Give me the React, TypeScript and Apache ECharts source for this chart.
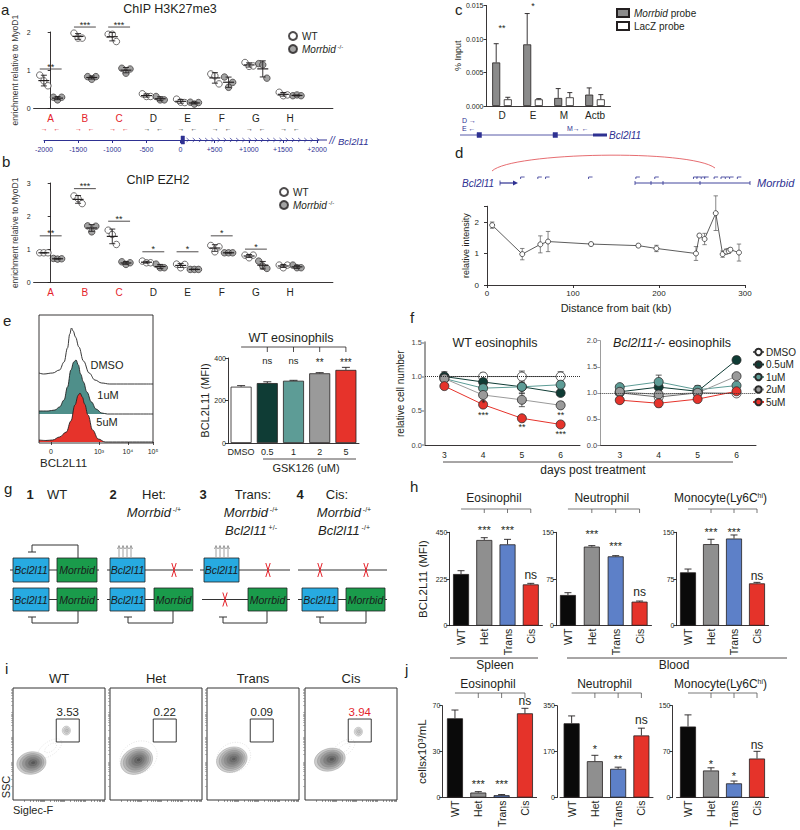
import React, { useEffect, useRef } from 'react';
import * as echarts from 'echarts';

const FONT = "'Liberation Sans', Arial, Helvetica, 'DejaVu Sans', sans-serif";
const INK = '#231f20';
const NAVY = '#2e3192';
const RED = '#e4232b';
const BLUE_BOX = '#27aae1';
const GREEN_BOX = '#1a9b4b';

/* ====================== DATA ====================== */
// a, b : ChIP-qPCR (enrichment relative to MyoD1), 3 replicates per site
const chipSites = ['A', 'B', 'C', 'D', 'E', 'F', 'G', 'H'];
const h3k27WT = [
  [0.87, 0.72, 0.59], [1.97, 1.84, 1.84], [1.94, 1.94, 1.75], [0.38, 0.31, 0.31],
  [0.24, 0.16, 0.15], [0.9, 0.85, 0.64], [1.2, 1.1, 1.11], [0.42, 0.33, 0.35],
];
const h3k27KO = [
  [0.29, 0.22, 0.29], [0.83, 0.76, 0.83], [1.05, 0.92, 1.03], [0.31, 0.22, 0.22],
  [0.16, 0.11, 0.15], [0.82, 0.55, 0.68], [1.17, 1.14, 0.79], [0.33, 0.35, 0.33],
];
const h3k27SigSite = [0, 1, 2];
const h3k27SigLevel = [1.03, 2.13, 2.13];
const h3k27SigText = ['**', '***', '***'];

const ezh2WT = [
  [0.9, 0.9, 0.9], [2.61, 2.53, 2.38], [1.58, 1.45, 1.15], [0.65, 0.6, 0.6],
  [0.56, 0.45, 0.55], [1.12, 0.93, 1.08], [0.83, 0.75, 0.83], [0.53, 0.45, 0.53],
];
const ezh2KO = [
  [0.73, 0.71, 0.72], [1.71, 1.53, 1.7], [0.63, 0.55, 0.6], [0.56, 0.45, 0.45],
  [0.4, 0.4, 0.4], [0.9, 0.9, 0.9], [0.65, 0.5, 0.43], [0.53, 0.45, 0.45],
];
const ezh2SigSite = [0, 1, 2, 3, 4, 5, 6];
const ezh2SigLevel = [1.41, 2.83, 1.85, 0.93, 0.93, 1.41, 1.01];
const ezh2SigText = ['**', '***', '**', '*', '*', '*', '*'];
const promoterTicks = [-2000, -1500, -1000, -500, 0, 500, 1000, 1500, 2000];

// c : ChIRP (% input)
const chirpSites = ['D', 'E', 'M', 'Actb'];
const chirpMorrbid = [0.0065, 0.0092, 0.0012, 0.0017];
const chirpMorrbidErr = [0.0028, 0.0046, 0.0014, 0.001];
const chirpLacZ = [0.001, 0.001, 0.0013, 0.001];
const chirpLacZErr = [0.0003, 0.0001, 0.0007, 0.0007];
const chirpSigSite = [0, 1];
const chirpSigLevel = [0.0113, 0.0146];
const chirpSigText = ['**', '*'];

// d : 3C relative intensity vs distance from bait (kb)
const captureDist = [6, 41, 62, 71, 121, 176, 197, 243, 247, 253, 266, 274, 278, 281, 283, 293];
const captureInt = [1.9, 0.98, 1.29, 1.38, 1.3, 1.25, 1.16, 1.0, 1.57, 1.46, 2.28, 0.98, 1.06, 1.08, 1.12, 1.03];
const captureErr = [0.1, 0.18, 0.27, 0.32, 0.05, 0.05, 0.1, 0.22, 0.05, 0.18, 0.55, 0.1, 0.08, 0.08, 0.06, 0.27];
const capturePrimers = [42, 62, 71, 121, 176, 198, 243, 247, 252, 256, 267, 275, 280, 285, 294];

// e : BCL2L11 histograms (channel, count) and MFI
const histTickPos = [10.5, 52.6, 78, 100];
const histTickLabels = ['0', '10³', '10⁴', '10⁵'];
const histDMSO = [[0, 11], [4, 10], [12, 11], [18, 14], [22, 22], [25, 36], [27, 50], [28.5, 56], [30, 53], [32, 47], [35, 37], [39, 23], [44, 11], [49, 4], [55, 1], [62, 0], [100, 0]];
const hist1uM = [[0, 3], [8, 3], [14, 4], [18, 7], [22, 14], [25, 27], [28, 44], [30.5, 52], [32.5, 54], [34.5, 49], [36.5, 40], [39, 32], [42, 22], [46, 12], [50, 5], [55, 1], [60, 0], [100, 0]];
const hist5uM = [[0, 2], [6, 1.5], [12, 2], [18, 5], [24, 10], [28, 21], [31.5, 37], [34.5, 47], [36, 49], [38, 45], [40, 38], [43, 27], [47, 12], [52, 3], [58, 0], [100, 0]];
const gskDose = ['DMSO', '0.5', '1', '2', '5'];
const gskMFI = [265, 282, 293, 328, 344];
const gskErr = [5, 6, 2, 3, 12];
const gskSig = ['ns', 'ns', '**', '***'];
const gskColors = ['#ffffff', '#0f3c35', '#5d9c96', '#9a9a9a', '#e6332b'];

// f : relative cell number
const days = ['3', '4', '5', '6'];
const fDoses = ['DMSO', '0.5uM', '1uM', '2uM', '5uM'];
const fColors = ['#ffffff', '#0f3c35', '#5d9c96', '#9a9a9a', '#e6332b'];
const wtMean = [[1.0, 1.0, 1.0, 1.0], [1.0, 0.92, 0.85, 0.76], [0.97, 0.83, 0.85, 0.88], [0.97, 0.73, 0.66, 0.58], [0.86, 0.59, 0.39, 0.3]];
const wtErr = [[0.07, 0.05, 0.08, 0.07], [0.03, 0.04, 0.05, 0.02], [0.03, 0.04, 0.1, 0.05], [0.02, 0.03, 0.1, 0.05], [0.02, 0.02, 0.03, 0.02]];
const koMean = [[1.0, 0.92, 1.0, 0.99], [1.02, 1.11, 1.03, 1.63], [1.11, 1.21, 1.06, 1.14], [1.02, 0.97, 1.0, 1.32], [0.86, 0.8, 0.88, 1.03]];
const koErr = [[0.03, 0.04, 0.05, 0.03], [0.03, 0.05, 0.04, 0.06], [0.03, 0.13, 0.08, 0.04], [0.03, 0.04, 0.03, 0.03], [0.03, 0.07, 0.04, 0.03]];
const wtStarPos = [[1.14, 0.65], [1, 0.47], [2, 0.3], [3, 0.48], [3, 0.19]];
const wtStarText = ['*', '***', '**', '**', '***'];

// h, j : genotypes
const genotypes = ['WT', 'Het', 'Trans', 'Cis'];
const genoColors = ['#0a0a0a', '#8f8f8f', '#5d80c8', '#e5332a'];
const hEos = [249, 413, 392, 199];
const hEosErr = [16, 11, 24, 5];
const hNeu = [49.3, 127, 111.4, 38.6];
const hNeuErr = [3.7, 1.6, 1.1, 1.0];
const hMono = [85.7, 131, 140, 68];
const hMonoErr = [5.3, 7.8, 5.7, 1.6];
const hSig = ['', '***', '***', 'ns'];
const jEos = [60.4, 3.8, 1.8, 64.2];
const jEosErr = [6.3, 0.7, 0.5, 3.8];
const jNeu = [283, 138.5, 109.5, 236.7];
const jNeuErr = [28, 22.5, 6.3, 27.7];
const jMono = [116, 44.2, 23.2, 63.7];
const jMonoErr = [19, 4.4, 3.8, 11.8];
const jEosSig = ['', '***', '***', 'ns'];
const jNeuSig = ['', '*', '**', 'ns'];
const jMonoSig = ['', '*', '*', 'ns'];

// i : flow plots
const flowGenotypes = ['WT', 'Het', 'Trans', 'Cis'];
const flowGatePct = ['3.53', '0.22', '0.09', '3.94'];
const flowBlobs = [
  [[40, 46, 15, 6, 35, 2, 0.05], [20, 33, 16, 10, 10, 6, 0.9], [58, 62, 4.5, 4, 0, 3, 0.3]],
  [[31, 38, 21, 14, 28, 2, 0.05], [29, 35, 18, 11.5, 25, 7, 0.92]],
  [[29, 38, 19, 13, 25, 2, 0.04], [27, 36, 17, 11, 20, 7, 0.88]],
  [[42, 46, 14, 6, 35, 2, 0.05], [27, 36, 17, 10, 15, 6, 0.9], [58, 61, 4.5, 4, 0, 3, 0.3]],
];
const flowGate = [47, 51.8, 72, 72.3];

/* ====================== OPTION ====================== */
function buildOption() {
  const grid: any[] = [];
  const xAxis: any[] = [];
  const yAxis: any[] = [];
  const series: any[] = [];
  const graphic: any[] = [];
  const legend: any[] = [];

  const addGrid = (g: any, x: any, y: any) => {
    const i = grid.length;
    grid.push({ containLabel: false, ...g });
    xAxis.push({ gridIndex: i, ...x });
    yAxis.push({ gridIndex: i, ...y });
    return i;
  };
  const T = (x: number, y: number, text: string, o: any = {}) =>
    graphic.push({
      type: 'text', x, y, z: 50, silent: true, rotation: o.rot || 0,
      style: {
        text, fontFamily: FONT, fontSize: o.size || 10, fill: o.color || INK, stroke: 'transparent', lineWidth: 0,
        fontStyle: o.italic ? 'italic' : 'normal', fontWeight: o.bold ? 'bold' : 'normal',
        align: o.align || 'center', verticalAlign: o.va || 'middle', rich: o.rich,
      },
    });
  const L = (x1: number, y1: number, x2: number, y2: number, color = INK, w = 1) =>
    graphic.push({ type: 'line', z: 40, silent: true, shape: { x1, y1, x2, y2 }, style: { stroke: color, lineWidth: w } });
  const PL = (pts: number[][], color = INK, w = 1) =>
    graphic.push({ type: 'polyline', z: 40, silent: true, shape: { points: pts }, style: { stroke: color, lineWidth: w, fill: null } });
  const R = (x: number, y: number, w: number, h: number, fill: any, stroke = INK, lw = 1, z = 40) =>
    graphic.push({ type: 'rect', z, silent: true, shape: { x, y, width: w, height: h }, style: { fill, stroke, lineWidth: lw } });

  const prism = (o: any = {}) => ({
    axisLine: { show: true, lineStyle: { color: o.lineColor || INK, width: o.lw || 0.9 } },
    axisTick: { show: o.tick !== false, length: 3, lineStyle: { color: o.lineColor || INK, width: o.lw ? Math.min(o.lw, 1.5) : 0.9 } },
    splitLine: { show: false },
    axisLabel: { fontFamily: FONT, color: o.labelColor || INK, fontSize: o.fs || 7, margin: o.margin ?? 3, ...(o.label || {}) },
  });
  const nameStyle = (size: number) => ({ fontFamily: FONT, fontSize: size, color: INK });
  const txtStyle = (text: string, size: number, color: string, va = 'middle') => ({
    text, fontFamily: FONT, fontSize: size, fill: color, stroke: 'transparent', lineWidth: 0, align: 'center', verticalAlign: va,
  });

  const errBars = (gi: number, rows: number[][], o: any = {}) =>
    series.push({
      type: 'custom', xAxisIndex: gi, yAxisIndex: gi, silent: true, z: o.z ?? 4, data: rows,
      renderItem: (p: any, api: any) => {
        const x = api.value(0), y = api.value(1), e = api.value(2);
        const c = api.coord([x, y]);
        const top = api.coord([x, y + e])[1];
        const bot = api.coord([x, o.up ? y : y - e])[1];
        const cx = c[0] + (o.off || 0);
        const st = { stroke: o.color || INK, lineWidth: o.lw || 0.9 };
        const ch: any[] = [
          { type: 'line', shape: { x1: cx, y1: top, x2: cx, y2: bot }, style: st },
          { type: 'line', shape: { x1: cx - o.cap, y1: top, x2: cx + o.cap, y2: top }, style: st },
        ];
        if (!o.up) ch.push({ type: 'line', shape: { x1: cx - o.cap, y1: bot, x2: cx + o.cap, y2: bot }, style: st });
        if (o.mean) ch.push({ type: 'line', shape: { x1: cx - o.mean, y1: c[1], x2: cx + o.mean, y2: c[1] }, style: { ...st, lineWidth: 1.2 } });
        return { type: 'group', children: ch };
      },
    });
  const texts = (gi: number, rows: number[][], labels: string[], o: any = {}) =>
    series.push({
      type: 'custom', xAxisIndex: gi, yAxisIndex: gi, silent: true, z: 6, data: rows,
      renderItem: (p: any, api: any) => {
        const c = api.coord([api.value(0), api.value(1)]);
        const t = labels[p.dataIndex];
        const star = t.charAt(0) === '*';
        return {
          type: 'text', x: c[0], y: c[1] + (star ? 2.5 : 0),
          style: txtStyle(t, star ? (o.starSize || o.size || 9) : (o.size || 9), o.color || INK),
        };
      },
    });
  const sigBars = (gi: number, rows: number[][], labels: string[], o: any = {}) =>
    series.push({
      type: 'custom', xAxisIndex: gi, yAxisIndex: gi, silent: true, z: 6, data: rows,
      renderItem: (p: any, api: any) => {
        const a = api.coord([api.value(0), api.value(2)]);
        const b = api.coord([api.value(1), api.value(2)]);
        return {
          type: 'group', children: [
            { type: 'line', shape: { x1: a[0], y1: a[1], x2: b[0], y2: a[1] }, style: { stroke: INK, lineWidth: 0.8 } },
            { type: 'text', x: (a[0] + b[0]) / 2, y: a[1] + 2, style: txtStyle(labels[p.dataIndex], o.size || 9, INK, 'bottom') },
          ],
        };
      },
    });
  const bracket = (gi: number, x1: number, x2: number, dy: number, tick: number, color = INK) =>
    series.push({
      type: 'custom', xAxisIndex: gi, yAxisIndex: gi, silent: true, z: 6, data: [[x1, 0]],
      renderItem: (p: any, api: any) => {
        const y = p.coordSys.y + dy;
        const st = { stroke: color, lineWidth: 0.8 };
        const ch: any[] = [{ type: 'line', shape: { x1: api.coord([x1, 0])[0], y1: y, x2: api.coord([x2, 0])[0], y2: y }, style: st }];
        for (let i = x1 + 1; i <= x2; i++) {
          const x = api.coord([i, 0])[0];
          ch.push({ type: 'line', shape: { x1: x, y1: y, x2: x, y2: y + tick }, style: st });
        }
        return { type: 'group', children: ch };
      },
    });

  // rich styles for graphic texts (zrender: fill) and for component texts (echarts: color)
  const gRich = (sz: number, color = INK) => ({
    i: { fontStyle: 'italic', fontFamily: FONT, fontSize: sz, fill: color },
    s: { fontFamily: FONT, fontSize: Math.round(sz * 0.55), fill: color, verticalAlign: 'top' },
    n: { fontFamily: FONT, fontSize: sz, fill: color },
  });
  const cRich = (sz: number) => ({
    i: { fontStyle: 'italic', fontFamily: FONT, fontSize: sz, color: INK },
    s: { fontFamily: FONT, fontSize: Math.round(sz * 0.6), color: INK, verticalAlign: 'top' },
    n: { fontFamily: FONT, fontSize: sz, color: INK },
  });

  /* ---------- panel letters ---------- */
  [['a', 1, 9], ['b', 2, 161], ['c', 455, 9], ['d', 455, 152], ['e', 3, 320], ['f', 410, 317], ['g', 4, 488], ['h', 410, 486], ['i', 5, 668], ['j', 405, 669]]
    .forEach(([t, x, y]: any) => T(x, y, t, { size: 15, align: 'left' }));

  /* ---------- a, b ---------- */
  const stat = (a: number[]) => {
    const m = a.reduce((s, v) => s + v, 0) / a.length;
    const sd = Math.sqrt(a.reduce((s, v) => s + (v - m) ** 2, 0) / (a.length - 1));
    return [m, sd];
  };
  const chipPanel = (top: number, height: number, max: number, wt: number[][], ko: number[][], sSite: number[], sLev: number[], sTxt: string[], arrows: boolean) => {
    const gi = addGrid({ left: 33.6, top, width: 299.3, height },
      {
        type: 'value', min: -0.5, max: 8.25, ...prism({ tick: false }),
        axisLabel: {
          customValues: chipSites.map((_, i) => i), margin: 4,
          formatter: (v: number) => {
            const i = Math.round(v);
            const k = i < 3 ? 'r' : 'k';
            return arrows ? `{${k}|${chipSites[i]}}\n{${k}a|→   ←}` : `{${k}|${chipSites[i]}}`;
          },
          rich: {
            r: { color: RED, fontSize: 10, fontFamily: FONT, lineHeight: 12 },
            ra: { color: RED, fontSize: 7, fontFamily: FONT, lineHeight: 9 },
            k: { color: INK, fontSize: 10, fontFamily: FONT, lineHeight: 12 },
            ka: { color: '#333', fontSize: 7, fontFamily: FONT, lineHeight: 9 },
          },
        },
      },
      {
        type: 'value', min: 0, max, interval: 1, ...prism({ fs: 7, margin: 3 }),
        name: 'enrichment relative to MyoD1', nameLocation: 'middle', nameRotate: 90, nameGap: 14,
        nameTextStyle: { fontFamily: FONT, fontSize: 8.5, color: '#3a3a3a' },
      });
    const wtOff = [-0.32, -0.2, -0.08], koOff = [0.08, 0.2, 0.32];
    series.push({
      type: 'scatter', name: 'WT', xAxisIndex: gi, yAxisIndex: gi, symbolSize: 6.5, z: 3,
      itemStyle: { color: '#ffffff', borderColor: INK, borderWidth: 0.8 },
      data: wt.flatMap((reps, i) => reps.map((v, j) => [i + wtOff[j], v])),
    });
    series.push({
      type: 'scatter', name: 'Morrbid', xAxisIndex: gi, yAxisIndex: gi, symbolSize: 6.5, z: 3,
      itemStyle: { color: '#8c8c8c', borderColor: INK, borderWidth: 0.8 },
      data: ko.flatMap((reps, i) => reps.map((v, j) => [i + koOff[j], v])),
    });
    errBars(gi, wt.map((r, i) => [i - 0.2, ...stat(r)]), { cap: 3, mean: 5.5, z: 4 });
    errBars(gi, ko.map((r, i) => [i + 0.2, ...stat(r)]), { cap: 3, mean: 5.5, z: 4 });
    sigBars(gi, sSite.map((s, k) => [s - 0.32, s + 0.32, sLev[k]]), sTxt, { size: 9 });
    return gi;
  };
  chipPanel(32, 76.3, 2, h3k27WT, h3k27KO, h3k27SigSite, h3k27SigLevel, h3k27SigText, true);
  chipPanel(183, 99.7, 3, ezh2WT, ezh2KO, ezh2SigSite, ezh2SigLevel, ezh2SigText, false);
  T(170, 9, 'ChIP H3K27me3', { size: 12.5 });
  T(158, 180, 'ChIP EZH2', { size: 12.5 });
  const chipLegend = (left: number, top: number) => legend.push({
    left, top, orient: 'vertical', data: ['WT', 'Morrbid'], itemWidth: 8, itemHeight: 8, itemGap: 3,
    icon: 'circle', selectedMode: false,
    textStyle: { fontFamily: FONT, fontSize: 10, color: INK, rich: cRich(10) },
    formatter: (n: string) => (n === 'Morrbid' ? '{i|Morrbid}{s| -/-}' : n),
  });
  chipLegend(283, 26);
  chipLegend(274, 182);

  // promoter coordinate track
  addGrid({ left: 44, top: 120, width: 273, height: 20 },
    {
      type: 'value', min: -2000, max: 2000,
      axisLine: { show: true, lineStyle: { color: NAVY, width: 1 } },
      axisTick: { show: true, length: 3, customValues: promoterTicks, lineStyle: { color: NAVY, width: 1 } },
      splitLine: { show: false },
      axisLabel: { customValues: promoterTicks, fontFamily: FONT, fontSize: 7, color: NAVY, margin: 6, formatter: (v: number) => (v > 0 ? `+${v}` : `${v}`) },
    },
    { type: 'value', min: 0, max: 1, show: false });
  L(317, 140, 327, 140, NAVY, 1);
  R(181, 136, 3.5, 8, NAVY, NAVY, 0.5);
  for (let x = 188; x < 324; x += 6.2) PL([[x - 1.5, 138], [x + 0.8, 140], [x - 1.5, 142]], NAVY, 0.7);
  T(332, 140, '//', { size: 10, color: NAVY, italic: true });
  T(338, 141, 'Bcl2l11', { size: 9.5, color: NAVY, italic: true, align: 'left' });

  /* ---------- c ---------- */
  const cg = addGrid({ left: 486.5, top: 5.5, width: 124, height: 100.5 },
    { type: 'category', data: chirpSites, ...prism({ fs: 10, margin: 4, label: { interval: 0 } }), axisTick: { alignWithLabel: true, length: 3, lineStyle: { color: INK, width: 0.9 } } },
    {
      type: 'value', min: 0, max: 0.015, interval: 0.005, ...prism({ fs: 7, margin: 3, label: { formatter: (v: number) => v.toFixed(3) } }),
      name: '% Input', nameLocation: 'middle', nameGap: 24, nameTextStyle: nameStyle(9),
    });
  series.push({ type: 'bar', name: 'Morrbid probe', xAxisIndex: cg, yAxisIndex: cg, data: chirpMorrbid, barWidth: 8, barGap: '45%', itemStyle: { color: '#8b8b8b', borderColor: INK, borderWidth: 0.8 } });
  series.push({ type: 'bar', name: 'LacZ probe', xAxisIndex: cg, yAxisIndex: cg, data: chirpLacZ, barWidth: 8, barGap: '45%', itemStyle: { color: '#ffffff', borderColor: INK, borderWidth: 0.8 } });
  errBars(cg, chirpMorrbid.map((v, i) => [i, v, chirpMorrbidErr[i]]), { cap: 2.5, up: true, off: -5.8 });
  errBars(cg, chirpLacZ.map((v, i) => [i, v, chirpLacZErr[i]]), { cap: 2.5, up: true, off: 5.8 });
  sigBars(cg, chirpSigSite.map((s, k) => [s - 0.32, s + 0.32, chirpSigLevel[k]]), chirpSigText, { size: 9 });
  legend.push({
    left: 611, top: 3, orient: 'vertical', data: ['Morrbid probe', 'LacZ probe'], icon: 'rect',
    itemWidth: 12, itemHeight: 8, itemGap: 3, selectedMode: false,
    textStyle: { fontFamily: FONT, fontSize: 10, color: INK, rich: cRich(10) },
    formatter: (n: string) => (n === 'Morrbid probe' ? '{i|Morrbid}{n| probe}' : n),
  });
  // Bcl2l11 locus under c
  L(460, 135, 597, 135, NAVY, 0.8);
  R(477, 132.5, 4.5, 5, NAVY, NAVY, 0.5);
  R(553, 132.5, 4.5, 5, NAVY, NAVY, 0.5);
  L(593, 135, 607, 135, NAVY, 3);
  T(609, 135.5, 'Bcl2l11', { size: 10, color: NAVY, italic: true, align: 'left' });
  T(462, 120, 'D →', { size: 7, color: NAVY, align: 'left' });
  T(462, 128, 'E ←', { size: 7, color: NAVY, align: 'left' });
  T(567, 128, 'M→ ←', { size: 7, color: NAVY, align: 'left' });

  /* ---------- d ---------- */
  const dg = addGrid({ left: 487, top: 206.25, width: 258, height: 78.75 },
    {
      type: 'value', min: 0, max: 300, interval: 100, ...prism({ fs: 8, margin: 4 }),
      name: 'Distance from bait (kb)', nameLocation: 'middle', nameGap: 17, nameTextStyle: nameStyle(11),
    },
    {
      type: 'value', min: 0, max: 2.5, interval: 1, offset: 5,
      ...prism({ fs: 8, margin: 3, label: { formatter: (v: number) => (Number.isInteger(v) ? String(v) : '') } }),
      name: 'relative intensity', nameLocation: 'middle', nameGap: 11, nameTextStyle: nameStyle(9),
    });
  errBars(dg, captureDist.map((d, i) => [d, captureInt[i], captureErr[i]]), { cap: 2.2, color: '#555', lw: 0.7, z: 3 });
  series.push({
    type: 'line', xAxisIndex: dg, yAxisIndex: dg, data: captureDist.map((d, i) => [d, captureInt[i]]),
    symbol: 'circle', symbolSize: 5, z: 4, itemStyle: { color: '#ffffff', borderColor: '#333', borderWidth: 0.8 },
    lineStyle: { color: '#333', width: 0.8 },
  });
  series.push({
    type: 'custom', xAxisIndex: dg, yAxisIndex: dg, silent: true, z: 6, data: capturePrimers.map((k) => [k, 0]),
    renderItem: (p: any, api: any) => {
      const x = api.coord([api.value(0), 0])[0];
      return { type: 'polyline', shape: { points: [[x - 2.5, 179], [x - 2.5, 177], [x + 1.5, 177]] }, style: { stroke: NAVY, lineWidth: 0.8, fill: null } };
    },
  });
  graphic.push({ type: 'bezierCurve', z: 40, silent: true, shape: { x1: 492, y1: 171, x2: 715, y2: 168, cpx1: 512, cpy1: 152, cpx2: 690, cpy2: 149 }, style: { stroke: '#e0474c', lineWidth: 0.8, fill: null } });
  T(462, 183, 'Bcl2l11', { size: 10, color: NAVY, italic: true, align: 'left' });
  L(500, 183, 513, 183, NAVY, 1.2); L(500, 180.5, 500, 185.5, NAVY, 0.8);
  graphic.push({ type: 'polygon', z: 40, silent: true, shape: { points: [[513, 180.5], [518, 183], [513, 185.5]] }, style: { fill: NAVY } });
  L(635, 183, 750, 183, NAVY, 0.9);
  [635, 651, 663, 700, 750].forEach((x) => L(x, 181, x, 185, NAVY, 0.8));
  T(757, 183, 'Morrbid', { size: 11, color: NAVY, italic: true, align: 'left' });

  /* ---------- e ---------- */
  const histRows = [
    { data: histDMSO, base: 384, fill: '#ffffff' },
    { data: hist1uM, base: 414, fill: '#4f8f8a' },
    { data: hist5uM, base: 442, fill: '#e6332b' },
  ];
  histRows.forEach((h, k) => {
    const gi = addGrid({ left: 39, top: h.base - 30, width: 114, height: 30 },
      k === 2
        ? {
          type: 'value', min: 0, max: 100, axisLine: { show: false }, splitLine: { show: false },
          axisTick: { show: true, customValues: histTickPos, length: 3, lineStyle: { color: INK, width: 0.8 } },
          axisLabel: {
            customValues: histTickPos, fontFamily: FONT, fontSize: 7, color: INK, margin: 6,
            formatter: (v: number) => {
              let best = 0;
              histTickPos.forEach((t, i) => { if (Math.abs(t - v) < Math.abs(histTickPos[best] - v)) best = i; });
              return histTickLabels[best];
            },
          },
        }
        : { type: 'value', min: 0, max: 100, show: false },
      { type: 'value', min: 0, max: 30, show: false });
    series.push({
      type: 'line', xAxisIndex: gi, yAxisIndex: gi, data: h.data, smooth: 0.4, smoothMonotone: 'x',
      symbol: 'none', clip: false, z: 2, lineStyle: { color: '#222', width: 0.9 }, areaStyle: { color: h.fill, opacity: 1 },
    });
  });
  R(39, 315, 114, 128, 'none', INK, 0.9, 45);
  T(107, 365, 'DMSO', { size: 11 });
  T(108, 395, '1uM', { size: 11 });
  T(107, 422, '5uM', { size: 11 });
  T(40, 463, 'BCL2L11', { size: 11.5, align: 'left' });

  const eg = addGrid({ left: 228, top: 358, width: 131, height: 85 },
    { type: 'category', data: gskDose, ...prism({ fs: 9, margin: 4, label: { interval: 0, hideOverlap: false } }), axisTick: { show: false } },
    {
      type: 'value', min: 0, max: 400, interval: 200, ...prism({ fs: 7, margin: 2 }),
      name: 'BCL2L11 (MFI)', nameLocation: 'middle', nameGap: 16, nameTextStyle: nameStyle(11),
    });
  series.push({
    type: 'bar', xAxisIndex: eg, yAxisIndex: eg, barWidth: 21,
    data: gskMFI.map((v, i) => ({ value: v, itemStyle: { color: gskColors[i] } })),
    itemStyle: { borderColor: INK, borderWidth: 0.8 },
  });
  errBars(eg, gskMFI.map((v, i) => [i, v, gskErr[i]]), { cap: 4, up: true });
  bracket(eg, 0, 4, -11, 5, INK);
  texts(eg, [1, 2, 3, 4].map((i) => [i, 390]), gskSig, { size: 9.5, starSize: 10 });
  T(291, 338, 'WT eosinophils', { size: 12.5 });
  L(263, 459, 356, 459, INK, 0.8);
  T(306, 467.5, 'GSK126 (uM)', { size: 11 });

  /* ---------- f ---------- */
  const fPanel = (left: number, top: number, width: number, height: number, max: number, means: number[][], errs: number[][], axisW: number, yName: string) => {
    const gi = addGrid({ left, top, width, height },
      { type: 'category', data: days, ...prism({ fs: 8.5, margin: 5, label: { interval: 0 } }), axisTick: { alignWithLabel: true, length: 3, lineStyle: { color: INK, width: 0.9 } } },
      {
        type: 'value', min: 0, max, interval: 0.5,
        ...prism({ lineColor: '#9d9d9d', lw: axisW, fs: 7.5, labelColor: '#444', label: { formatter: (v: number) => v.toFixed(1) } }),
        name: yName, nameLocation: 'middle', nameGap: 20, nameTextStyle: nameStyle(10),
      });
    fDoses.forEach((d, k) => errBars(gi, means[k].map((m, i) => [i, m, errs[k][i]]), { cap: 3, color: '#333', lw: 0.8, z: 2 }));
    fDoses.forEach((d, k) => {
      series.push({
        type: 'line', name: d, xAxisIndex: gi, yAxisIndex: gi, data: means[k], symbol: 'circle', symbolSize: 9, z: 3,
        itemStyle: { color: fColors[k], borderColor: '#2a2a2a', borderWidth: 0.8 },
        lineStyle: { color: k === 0 ? '#666' : fColors[k], width: 1 },
        markLine: k === 0 ? { silent: true, symbol: 'none', label: { show: false }, lineStyle: { type: 'dotted', color: '#333', width: 1 }, data: [{ yAxis: 1 }] } : undefined,
      });
    });
    return gi;
  };
  const fw = fPanel(425, 342.3, 155, 102.7, 1.5, wtMean, wtErr, 2, 'relative cell number');
  fPanel(600.3, 340.7, 155.7, 104.3, 2, koMean, koErr, 1, '');
  texts(fw, wtStarPos, wtStarText, { size: 9 });
  T(495, 343, 'WT eosinophils', { size: 12.5 });
  T(672, 343, '{i|Bcl2l11-/-}{n| eosinophils}', { size: 12.5, rich: gRich(12.5) });
  legend.push({
    left: 747, top: 342, orient: 'vertical', data: fDoses, itemWidth: 11, itemHeight: 8, itemGap: 2.5,
    selectedMode: false, textStyle: { fontFamily: FONT, fontSize: 10, color: INK, lineHeight: 9.5, padding: [0, 0, 0, -3] },
  });
  L(443, 462, 733, 462, INK, 0.8);
  T(593, 470, 'days post treatment', { size: 12 });

  /* ---------- g ---------- */
  const hdr = (x: number, y: number, t: string, bold = false) => T(x, y, t, { size: 13, bold });
  hdr(30, 494, '1', true); hdr(57, 494, 'WT');
  hdr(113, 494, '2', true); hdr(154, 494, 'Het:');
  T(154, 512, '{i|Morrbid}{s| -/+}', { size: 13, rich: gRich(13) });
  hdr(203, 494, '3', true); hdr(253, 494, 'Trans:');
  T(251, 512, '{i|Morrbid}{s| -/+}', { size: 13, rich: gRich(13) });
  T(251, 530, '{i|Bcl2l11}{s| +/-}', { size: 13, rich: gRich(13) });
  hdr(300, 494, '4', true); hdr(337, 494, 'Cis:');
  T(344, 512, '{i|Morrbid}{s| -/+}', { size: 13, rich: gRich(13) });
  T(344, 530, '{i|Bcl2l11}{s| -/+}', { size: 13, rich: gRich(13) });

  const Y1 = 570, Y2 = 599.5;
  const gbox = (x: number, y: number, w: number, h: number, fill: string, label: string) => {
    R(x, y, w, h, fill, '#222', 0.8);
    T(x + w / 2, y + h / 2, label, { size: 10.5, italic: true, color: '#1b1b1b' });
  };
  const Xm = (x: number, y: number) => { L(x - 2.2, y - 7, x + 2.2, y + 7, RED, 1); L(x + 2.2, y - 7, x - 2.2, y + 7, RED, 1); };
  const up = (x: number) => { L(x, 557, x, 546.5, '#888', 0.8); PL([[x - 1.5, 549], [x, 545.5], [x + 1.5, 549]], '#888', 0.8); };
  const inhib = (xf: number, xt: number) => { PL([[xf, 611], [xf, 623], [xt, 623], [xt, 617]], '#333', 1); L(xt - 4, 617, xt + 4, 617, '#333', 1); };
  // 1 WT
  L(10, Y1, 99, Y1, '#333'); L(10, Y2, 99, Y2, '#333');
  gbox(13, 558, 36, 24, BLUE_BOX, 'Bcl2l11'); gbox(57, 558, 40, 24, GREEN_BOX, 'Morrbid');
  gbox(13, 588, 36, 23, BLUE_BOX, 'Bcl2l11'); gbox(57, 588, 40, 23, GREEN_BOX, 'Morrbid');
  PL([[78, 558], [78, 545], [32, 545], [32, 552]], '#333', 1); L(28, 552, 36, 552, '#333', 1);
  inhib(78, 32);
  // 2 Het
  L(107, Y1, 193, Y1, '#333'); L(107, Y2, 193, Y2, '#333');
  gbox(110, 558, 35, 24, BLUE_BOX, 'Bcl2l11'); Xm(174, Y1);
  gbox(110, 588, 35, 23, BLUE_BOX, 'Bcl2l11'); gbox(154, 588, 39, 23, GREEN_BOX, 'Morrbid');
  inhib(173, 128);
  [119, 123, 127, 131].forEach(up);
  // 3 Trans
  L(200, Y1, 290, Y1, '#333'); L(202, Y2, 290, Y2, '#333');
  gbox(204, 558, 35, 24, BLUE_BOX, 'Bcl2l11'); Xm(268, Y1);
  Xm(225, Y2); gbox(248, 588, 39, 23, GREEN_BOX, 'Morrbid');
  inhib(267, 223);
  [216, 220, 224, 228].forEach(up);
  // 4 Cis
  L(298, Y1, 387, Y1, '#333'); L(298, Y2, 387, Y2, '#333');
  Xm(320, Y1); Xm(366, Y1);
  gbox(302, 588, 36, 23, BLUE_BOX, 'Bcl2l11'); gbox(346, 588, 39, 23, GREEN_BOX, 'Morrbid');
  inhib(366, 320);

  /* ---------- h, j ---------- */
  const genoPanel = (c: any) => {
    const gi = addGrid({ left: c.left, top: c.top, width: c.width, height: c.height },
      {
        type: 'category', data: genotypes, ...prism({}),
        axisTick: { alignWithLabel: true, length: 3, lineStyle: { color: INK, width: 0.9 } },
        axisLabel: { rotate: 90, interval: 0, fontSize: 10.5, margin: 3, fontFamily: FONT, color: INK },
      },
      {
        type: 'value', min: 0, max: c.max, interval: c.max / 2, offset: c.offset || 0,
        ...prism({ fs: 7, margin: 2, label: { formatter: (v: number) => c.ticks[Math.round(v / (c.max / 2))] } }),
        name: c.yName || '', nameLocation: 'middle', nameGap: c.nameGap || 20, nameTextStyle: nameStyle(11.5),
      });
    series.push({
      type: 'bar', xAxisIndex: gi, yAxisIndex: gi, barWidth: 16,
      data: c.vals.map((v: number, i: number) => ({ value: v, itemStyle: { color: genoColors[i] } })),
      itemStyle: { borderColor: INK, borderWidth: 0.8 },
    });
    errBars(gi, c.vals.map((v: number, i: number) => [i, v, c.errs[i]]), { cap: 3.5, up: true, z: 3 });
    bracket(gi, 0, 3, c.bracketDy, c.tick, '#555');
    const idx = c.sig.map((s: string, i: number) => (s ? i : -1)).filter((i: number) => i >= 0);
    texts(gi, idx.map((i: number) => [i, c.sigY[i]]), idx.map((i: number) => c.sig[i]), { size: 12, starSize: 11 });
    T(c.left + c.width / 2 - 2, c.titleY, c.title, { size: 12, rich: gRich(12) });
    return gi;
  };
  const monoTitle = '{n|Monocyte(Ly6C}{s|hi}{n|)}';
  genoPanel({ left: 449.4, width: 93, top: 532.3, height: 93.4, max: 450, ticks: ['0', '225', '450'], vals: hEos, errs: hEosErr, sig: hSig, sigY: [0, 475, 475, 244], title: 'Eosinophil', titleY: 498, bracketDy: -23.3, tick: 4, yName: 'BCL2L11 (MFI)', nameGap: 20 });
  genoPanel({ left: 556, width: 95.5, top: 532.3, height: 93.4, max: 150, ticks: ['0', '75', '150'], vals: hNeu, errs: hNeuErr, sig: hSig, sigY: [0, 150.5, 132.8, 54], title: 'Neutrophil', titleY: 498, bracketDy: -23.3, tick: 4 });
  genoPanel({ left: 676.5, width: 92, top: 532.3, height: 93.4, max: 150, ticks: ['0', '75', '150'], vals: hMono, errs: hMonoErr, sig: hSig, sigY: [0, 153.7, 153.7, 79.8], title: monoTitle, titleY: 498, bracketDy: -23.3, tick: 4 });
  L(450, 658, 538, 658, INK, 0.8); T(495, 665, 'Spleen', { size: 12 });
  L(567, 658, 787, 658, INK, 0.8); T(674, 665, 'Blood', { size: 12 });

  genoPanel({ left: 443.3, width: 93.3, top: 705.7, height: 92.6, max: 70, ticks: ['0', '30', '70'], vals: jEos, errs: jEosErr, sig: jEosSig, sigY: [0, 12.1, 12.1, 73.5], title: 'Eosinophil', titleY: 684, bracketDy: -12.7, tick: 5, yName: 'cellsx10³/mL', nameGap: 14, offset: 1 });
  genoPanel({ left: 560, width: 93, top: 705.7, height: 92.6, max: 350, ticks: ['0', '170', '350'], vals: jNeu, errs: jNeuErr, sig: jNeuSig, sigY: [0, 194, 156, 296], title: 'Neutrophil', titleY: 684, bracketDy: -12.7, tick: 5, offset: 3 });
  genoPanel({ left: 676.5, width: 92, top: 705.7, height: 92.6, max: 150, ticks: ['0', '70', '150'], vals: jMono, errs: jMonoErr, sig: jMonoSig, sigY: [0, 58.8, 39.4, 86.3], title: monoTitle, titleY: 684, bracketDy: -12.7, tick: 5, offset: 4 });

  /* ---------- i ---------- */
  const flowTicks: number[] = [];
  [12, 34, 56, 78].forEach((d) => { for (let k = 1; k <= 9; k++) { const v = d + 22 * Math.log10(k); if (v < 99) flowTicks.push(v); } });
  const flowLeft = [13, 110, 207, 305];
  flowGenotypes.forEach((g, k) => {
    const gi = addGrid({ left: flowLeft[k], top: 688, width: 92, height: 112, show: true, borderColor: '#333', borderWidth: 1, backgroundColor: '#ffffff' },
      { type: 'value', min: 0, max: 100, axisLine: { show: false }, axisLabel: { show: false }, splitLine: { show: false }, axisTick: { show: true, customValues: flowTicks, length: 2, lineStyle: { color: '#555', width: 0.6 } } },
      { type: 'value', min: 0, max: 100, axisLine: { show: false }, axisLabel: { show: false }, splitLine: { show: false }, axisTick: { show: true, customValues: flowTicks, length: 2, lineStyle: { color: '#777', width: 0.5 } } });
    series.push({
      type: 'custom', xAxisIndex: gi, yAxisIndex: gi, silent: true, z: 3, data: flowBlobs[k],
      renderItem: (p: any, api: any) => {
        const c = api.coord([api.value(0), api.value(1)]);
        const rx = api.size([api.value(2), 0])[0];
        const ry = api.size([0, api.value(3)])[1];
        const lv = api.value(5), dk = api.value(6);
        const faint = dk < 0.1;
        const ch: any[] = [];
        for (let i = 0; i < lv; i++) {
          const s = 1 - i / lv;
          const shade = Math.round(250 - (250 - 70) * dk * Math.pow((i + 1) / lv, 0.7));
          ch.push({
            type: 'ellipse', shape: { cx: (1 - s) * rx * 0.15, cy: 0, rx: rx * s, ry: ry * s },
            style: { fill: faint ? null : `rgb(${shade},${shade},${shade})`, stroke: faint ? '#c4c4c4' : '#8a8a8a', lineWidth: faint ? 0.4 : 0.35, lineDash: faint ? [1, 1.5] : null },
          });
        }
        return { type: 'group', x: c[0], y: c[1], rotation: (api.value(4) * Math.PI) / 180, children: ch };
      },
    });
    series.push({
      type: 'custom', xAxisIndex: gi, yAxisIndex: gi, silent: true, z: 5, data: [flowGate],
      renderItem: (p: any, api: any) => {
        const a = api.coord([api.value(0), api.value(3)]);
        const b = api.coord([api.value(2), api.value(1)]);
        return {
          type: 'group', children: [
            { type: 'rect', shape: { x: a[0], y: a[1], width: b[0] - a[0], height: b[1] - a[1] }, style: { fill: null, stroke: '#222', lineWidth: 0.9 } },
            { type: 'text', x: (a[0] + b[0]) / 2, y: a[1] - 7.5, style: txtStyle(flowGatePct[k], 11.5, k === 3 ? RED : INK) },
          ],
        };
      },
    });
    T(flowLeft[k] + 46, 678, g, { size: 13 });
  });
  T(6, 787, 'SSC', { size: 11, rot: Math.PI / 2 });
  T(13, 810, 'Siglec-F', { size: 11, align: 'left' });

  return {
    animation: false,
    backgroundColor: '#ffffff',
    textStyle: { fontFamily: FONT },
    grid, xAxis, yAxis, series, legend, graphic,
  };
}

export default function App() {
  const ref = useRef<HTMLDivElement>(null);
  useEffect(() => {
    const chart = echarts.init(ref.current as HTMLDivElement, null, { renderer: 'svg' });
    chart.setOption(buildOption() as any);
    return () => chart.dispose();
  }, []);
  return <div ref={ref} style={{ position: 'fixed', left: 0, top: 0, width: 800, height: 830, background: '#fff' }} />;
}
